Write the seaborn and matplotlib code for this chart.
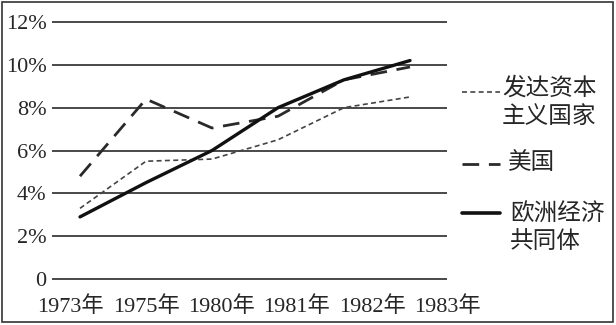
import numpy as np
import pandas as pd
import matplotlib
matplotlib.use("Agg")
import matplotlib.pyplot as plt
from matplotlib.lines import Line2D
from matplotlib.patches import Rectangle
import seaborn as sns

years = ["1973年", "1975年", "1980年", "1981年", "1982年", "1983年"]
developed = [3.3, 5.5, 5.6, 6.5, 8.0, 8.5]     # 发达资本主义国家
usa = [4.8, 8.4, 7.05, 7.6, 9.3, 9.9]           # 美国
eec = [2.9, 4.5, 6.0, 8.0, 9.3, 10.2]           # 欧洲经济共同体
y_ticks = [0, 2, 4, 6, 8, 10, 12]
y_labels = ["0", "2%", "4%", "6%", "8%", "10%", "12%"]

sns.set_style("white")
plt.rcParams['font.family'] = ['Liberation Serif', 'Noto Sans CJK SC']

W, H = 616, 325
fig = plt.figure(figsize=(W / 100, H / 100), dpi=100)

def fx(px):
    return px / W

def fy(py):
    return 1 - py / H

# axes: left edge at px 52, right at px 490; y 0 at px 279, 12 at px 22
x_left = -28 / 66
x_right = (490 - 80) / 66
grid_right = (447 - 80) / 66
ypad = 0.3
px_per_unit = (279 - 22) / 12
ax = fig.add_axes([fx(52), fy(279 + ypad * px_per_unit), fx(490) - fx(52),
                   (257 + 2 * ypad * px_per_unit) / H])
ax.set_xlim(x_left, x_right)
ax.set_ylim(-ypad, 12 + ypad)
for s in ax.spines.values():
    s.set_visible(False)

ax.hlines(y_ticks, x_left, grid_right, color="#3a3a3a", lw=1.3, zorder=1)

df = pd.DataFrame({"x": np.arange(len(years)), "developed": developed,
                   "usa": usa, "eec": eec})
sns.lineplot(data=df, x="x", y="developed", ax=ax, color="#444444", lw=1.2,
             linestyle=(0, (3, 2)), zorder=3)
sns.lineplot(data=df, x="x", y="usa", ax=ax, color="#2a2a2a", lw=2.0,
             linestyle=(0, (6, 3.5)), zorder=3)
sns.lineplot(data=df, x="x", y="eec", ax=ax, color="#111111", lw=2.4,
             linestyle="-", zorder=4)

ax.set_yticks(y_ticks)
ax.set_yticklabels(y_labels, fontsize=16)
label_pos = [-0.14 + 1.142 * i for i in range(len(years))]
ax.set_xticks(label_pos)
ax.set_xticklabels(years, fontsize=16)
ax.tick_params(axis="y", length=0, pad=4)
ax.tick_params(axis="x", length=0, pad=8)
ax.set_xlabel("")
ax.set_ylabel("")

# legend (manual)
leg = [
    ((0, (3, 2)), 1.2, "#444444", 92, ["发达资本", "主义国家"], 502, 88),
    ((0, (6, 3.5)), 2.0, "#2a2a2a", 164, ["美国"], 508, 163),
    ("-", 2.6, "#111111", 213, ["欧洲经济", "共同体"], 510, 213),
]
for ls, lw, col, ly, texts, tx, ty in leg:
    fig.add_artist(Line2D([fx(462), fx(500)], [fy(ly), fy(ly)], color=col,
                          lw=lw, linestyle=ls))
    for k, t in enumerate(texts):
        fig.text(fx(tx), fy(ty + k * 28), t, fontsize=17, ha="left",
                 va="center", family=['Noto Sans CJK SC'])

fig.add_artist(Rectangle((fx(2), fy(322)), fx(611), (320) / H, fill=False,
                         edgecolor="#333333", lw=1.2, transform=fig.transFigure))

fig.savefig("out.png", dpi=100)
